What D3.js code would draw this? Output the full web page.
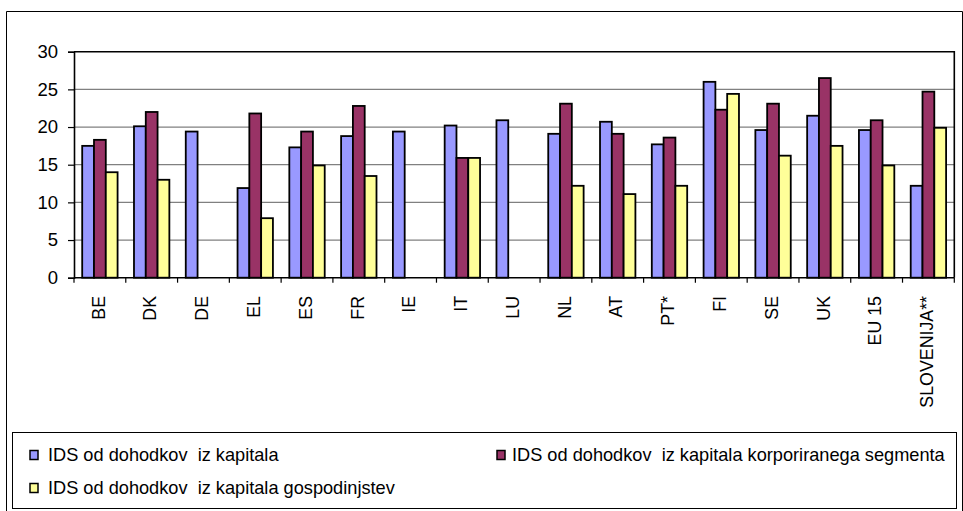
<!DOCTYPE html>
<html>
<head>
<meta charset="utf-8">
<script src="https://cdn.jsdelivr.net/npm/d3@7/dist/d3.min.js"></script>
<style>
  html, body { margin: 0; padding: 0; background: #fff; }
  svg { display: block; font-family: "Liberation Sans", Arial, sans-serif; }
</style>
</head>
<body>
<svg id="chart" width="963" height="511"></svg>
<script>
// Country codes along the x axis
const categories = ["BE", "DK", "DE", "EL", "ES", "FR", "IE", "IT", "LU", "NL", "AT", "PT*", "FI", "SE", "UK", "EU 15", "SLOVENIJA**"];

// Implicit tax rates (%) for each series; null = no data
const capitalAll   = [17.5, 20.1, 19.4, 11.9, 17.3, 18.8, 19.4, 20.2, 20.9, 19.1, 20.7, 17.7, 26.0, 19.6, 21.5, 19.6, 12.2];
const corporate    = [18.3, 22.0, null, 21.8, 19.4, 22.8, null, 15.9, null, 23.1, 19.1, 18.6, 22.3, 23.1, 26.5, 20.9, 24.7];
const households   = [14.0, 13.0, null, 7.9, 14.9, 13.5, null, 15.9, null, 12.2, 11.1, 12.2, 24.4, 16.2, 17.5, 14.9, 19.9];

const seriesNames  = [
  "IDS od dohodkov  iz kapitala",
  "IDS od dohodkov  iz kapitala korporiranega segmenta",
  "IDS od dohodkov  iz kapitala gospodinjstev"
];
const seriesColors = ["#9999FF", "#993366", "#FFFF99"];
const yTicks = [0, 5, 10, 15, 20, 25, 30];

const series = [capitalAll, corporate, households];

const svg = d3.select("#chart");

// Outer frame of the figure
svg.append("path")
  .attr("d", "M6.5,511 V11.5 H962.5 V511")
  .attr("fill", "none").attr("stroke", "#000").attr("stroke-width", 1);

const plot = { left: 74, right: 954.3, top: 51.7, bottom: 277.7 };

const x = d3.scaleBand().domain(categories).range([plot.left, plot.right]).padding(0);
const inner = d3.scaleBand().domain(d3.range(series.length))
  .range([8.2, x.bandwidth() - 8.2]).padding(0);
const y = d3.scaleLinear().domain([0, 30]).range([plot.bottom, plot.top]);

// Horizontal gridlines
svg.append("g").selectAll("line")
  .data(yTicks.filter(t => t > 0 && t < 30))
  .join("line")
  .attr("x1", plot.left).attr("x2", plot.right)
  .attr("y1", d => y(d)).attr("y2", d => y(d))
  .attr("stroke", "#808080").attr("stroke-width", 1.2);

// Plot area border (top and right)
svg.append("path")
  .attr("d", `M${plot.left},${plot.top} H${plot.right} V${plot.bottom}`)
  .attr("fill", "none").attr("stroke", "#000").attr("stroke-width", 1.6);

// Bars
const groups = svg.append("g").selectAll("g")
  .data(categories)
  .join("g")
  .attr("transform", d => `translate(${x(d)},0)`);

groups.selectAll("rect")
  .data((c, i) => series.map((s, k) => ({ k, v: s[i] })).filter(d => d.v !== null))
  .join("rect")
  .attr("x", d => inner(d.k))
  .attr("width", inner.bandwidth())
  .attr("y", d => y(d.v))
  .attr("height", d => y(0) - y(d.v))
  .attr("fill", d => seriesColors[d.k])
  .attr("stroke", "#000").attr("stroke-width", 1.8);

// Y axis
const yAxis = d3.axisLeft(y).tickValues(yTicks).tickSize(6).tickPadding(10);
svg.append("g")
  .attr("transform", `translate(${plot.left},0)`)
  .call(yAxis)
  .call(g => g.select(".domain").attr("stroke", "#000").attr("stroke-width", 1.6))
  .call(g => g.selectAll(".tick line").attr("stroke", "#000").attr("stroke-width", 1.2))
  .call(g => g.selectAll("text").attr("font-size", 18.5).attr("fill", "#000")
    .attr("font-family", "'Liberation Sans', Arial, sans-serif"));

// X axis: ticks at category boundaries
svg.append("line")
  .attr("x1", plot.left).attr("x2", plot.right)
  .attr("y1", plot.bottom).attr("y2", plot.bottom)
  .attr("stroke", "#000").attr("stroke-width", 1.6);

const boundaries = categories.map(c => x(c)).concat([plot.right]);
svg.append("g").selectAll("line")
  .data(boundaries)
  .join("line")
  .attr("x1", d => d).attr("x2", d => d)
  .attr("y1", plot.bottom).attr("y2", plot.bottom + 5)
  .attr("stroke", "#000").attr("stroke-width", 1.2);

// Rotated category labels
svg.append("g").selectAll("text")
  .data(categories)
  .join("text")
  .attr("transform", d => `translate(${x(d) + x.bandwidth() / 2 - 1.5},296) rotate(-90)`)
  .attr("text-anchor", "end")
  .attr("dy", "0.35em")
  .attr("font-size", 17.8)
  .attr("fill", "#000")
  .text(d => d);

// Legend
const legend = svg.append("g");
legend.append("rect")
  .attr("x", 12.5).attr("y", 432.5).attr("width", 944).attr("height", 76)
  .attr("fill", "#fff").attr("stroke", "#000").attr("stroke-width", 1);

const legendPos = [
  { x: 30, y: 455, tx: 48 },
  { x: 497, y: 455, tx: 512 },
  { x: 30, y: 488, tx: 48 }
];
seriesNames.forEach((name, k) => {
  const p = legendPos[k];
  legend.append("rect")
    .attr("x", p.x).attr("y", p.y - 4.5).attr("width", 8).attr("height", 9)
    .attr("fill", seriesColors[k]).attr("stroke", "#000").attr("stroke-width", 1.5);
  legend.append("text")
    .attr("x", p.tx).attr("y", p.y).attr("dy", "0.35em")
    .attr("font-size", 18.2).attr("fill", "#000")
    .attr("xml:space", "preserve")
    .style("white-space", "pre")
    .text(name);
});
</script>
</body>
</html>
